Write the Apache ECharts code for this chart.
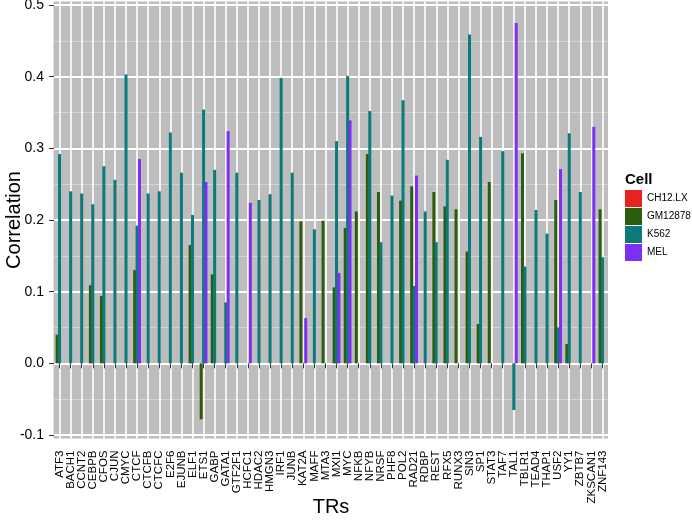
<!DOCTYPE html>
<html><head><meta charset="utf-8">
<script src="https://cdn.jsdelivr.net/npm/echarts@6.0.0/dist/echarts.min.js"></script>
<style>html,body{margin:0;padding:0;background:#fff}#c{width:692px;height:527px}</style>
</head><body><div id="c"></div>
<script>
const categories = ['ATF3','BACH1','CCNT2','CEBPB','CFOS','CJUN','CMYC','CTCF','CTCFB','CTCFC','E2F6','EJUNB','ELF1','ETS1','GABP','GATA1','GTF2F1','HCFC1','HDAC2','HMGN3','IRF1','JUNB','KAT2A','MAFF','MTA3','MXI1','MYC','NFKB','NFYB','NRSF','PHF8','POL2','RAD21','RDBP','REST','RFX5','RUNX3','SIN3','SP1','STAT3','TAF7','TAL1','TBLR1','TEAD4','THAP1','USF2','YY1','ZBTB7','ZKSCAN1','ZNF143'];

const ch12lx = [];

const gm12878 = [0.040,null,null,0.109,0.094,null,null,0.130,null,null,
  null,null,0.165,-0.078,0.124,null,null,null,null,null,
  null,null,0.198,null,0.199,0.106,0.189,0.212,0.292,0.239,
  null,0.227,0.247,null,0.239,0.219,0.215,0.156,0.055,0.253,
  null,null,0.293,null,null,0.228,0.027,null,null,0.215];

const k562 = [0.292,0.240,0.237,0.222,0.275,0.256,0.403,0.192,0.237,0.240,
  0.322,0.266,0.207,0.354,0.270,0.085,0.266,null,0.228,0.236,
  0.398,0.266,null,0.187,null,0.310,0.401,null,0.352,0.169,
  0.234,0.367,0.108,0.212,0.169,0.284,null,0.459,0.316,null,
  0.296,-0.065,0.135,0.214,0.181,0.050,0.321,0.239,null,0.148];

const mel = [null,null,null,null,null,null,null,0.285,null,null,
  null,null,null,0.253,null,0.324,null,0.224,null,null,
  null,null,0.063,null,null,0.126,0.339,null,null,null,
  null,null,0.262,null,null,null,null,null,null,null,
  null,0.475,null,null,null,0.271,null,null,0.330,null];

const cellNames = ['CH12.LX','GM12878','K562','MEL'];
const cellColors = ['#e8231f','#2c5d0c','#0b7a7a','#7d2ff5'];
const yMin = -0.1, yMax = 0.5, yStep = 0.1;

const chart = echarts.init(document.getElementById('c'), null, {renderer:'canvas'});
const font = 'Liberation Sans, Arial, sans-serif';

function barSeries(name, data, color){
  return {
    name, type:'bar', data, barWidth:3, barGap:'-20%',
    xAxisIndex:0, yAxisIndex:0,
    itemStyle:{color}, emphasis:{disabled:true}, z:3
  };
}

chart.setOption({
  animation:false,
  backgroundColor:'#ffffff',
  textStyle:{fontFamily:font},
  graphic:[{
    type:'rect', z:-10, silent:true,
    shape:{x:53.5, y:1.5, width:554.5, height:437},
    style:{fill:'#bdbdbd'}
  }],
  title:{
    text:'Cell', left:625, top:172, padding:0,
    textStyle:{fontFamily:font, fontSize:15, fontWeight:'bold', color:'#000'}
  },
  legend:{
    orient:'vertical', left:625, top:190, padding:0,
    itemWidth:17, itemHeight:17, itemGap:1, icon:'rect',
    data:cellNames,
    textStyle:{fontFamily:font, fontSize:10, color:'#000'},
    selectedMode:false
  },
  grid:[
    {left:54, right:84, top:5, bottom:92, containLabel:false, outerBoundsMode:'none'},
    {left:54, right:84, top:1.5, bottom:88.5, containLabel:false, outerBoundsMode:'none'}
  ],
  xAxis:[{
    type:'category', data:categories, boundaryGap:true, offset:3.5, gridIndex:0,
    name:'TRs', nameLocation:'middle', nameGap:59, nameMoveOverlap:false,
    nameTextStyle:{fontFamily:font, fontSize:20, color:'#000'},
    axisLine:{show:false},
    axisTick:{show:true, alignWithLabel:true, length:5, lineStyle:{color:'#333', width:1}},
    axisLabel:{rotate:90, interval:0, margin:12, fontSize:11.5, color:'#000', fontFamily:font},
    splitLine:{show:false}
  },{
    type:'value', gridIndex:1, min:0, max:categories.length, interval:1,
    axisLine:{show:false}, axisTick:{show:false}, axisLabel:{show:false},
    splitLine:{show:false},
    minorTick:{show:false, splitNumber:2},
    minorSplitLine:{show:true, lineStyle:{color:'#ffffff', width:1.6}}
  }],
  yAxis:[{
    type:'value', min:yMin, max:yMax, interval:yStep, gridIndex:0,
    name:'Correlation', nameLocation:'middle', nameGap:30, nameRotate:90, nameMoveOverlap:false,
    nameTextStyle:{fontFamily:font, fontSize:20, color:'#000'},
    axisLine:{show:false},
    axisTick:{show:true, length:5, lineStyle:{color:'#333', width:1}},
    axisLabel:{margin:10, fontSize:14, color:'#000', fontFamily:font,
      formatter:v=>v.toFixed(1)},
    splitLine:{show:true, lineStyle:{color:'#ffffff', width:1.8}},
    minorTick:{show:false, splitNumber:2},
    minorSplitLine:{show:true, lineStyle:{color:'#d3d3d3', width:1}}
  },{
    type:'value', gridIndex:1, min:0, max:1, show:false,
    splitLine:{show:false}
  }],
  series:[
    {name:'CH12.LX', type:'line', data:ch12lx, xAxisIndex:0, yAxisIndex:0,
     itemStyle:{color:cellColors[0]}, lineStyle:{color:cellColors[0]}},
    barSeries('GM12878', gm12878, cellColors[1]),
    barSeries('K562', k562, cellColors[2]),
    barSeries('MEL', mel, cellColors[3])
  ]
});
</script>
</body></html>
